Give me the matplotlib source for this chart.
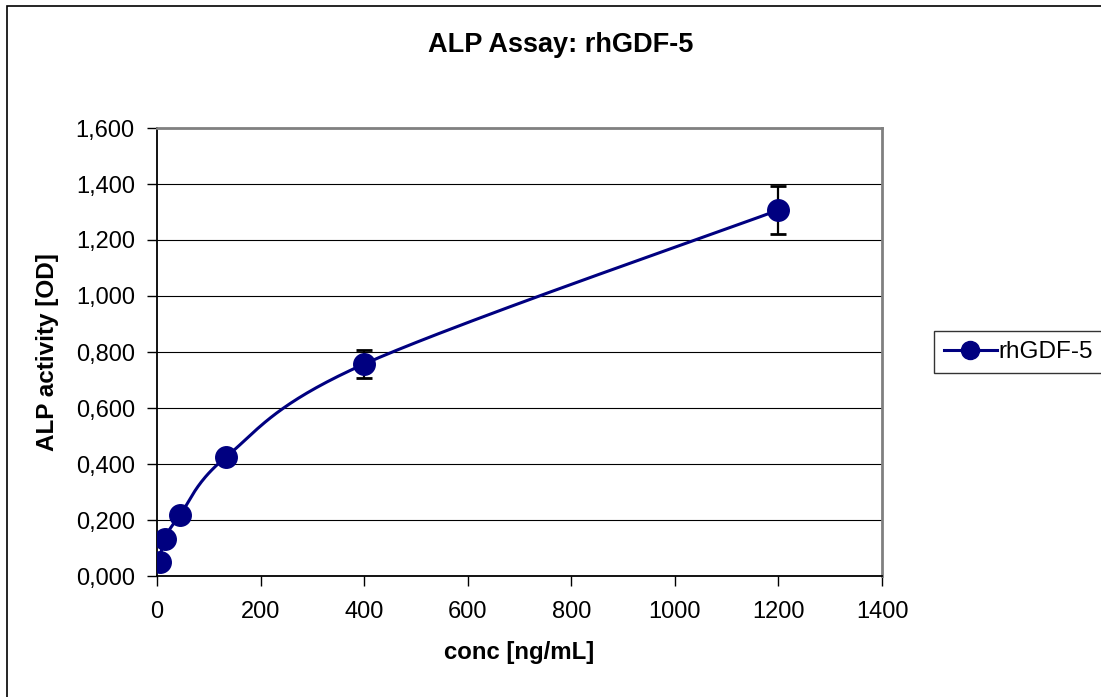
import matplotlib

matplotlib.use("Agg")
import matplotlib.pyplot as plt
import numpy as np
from matplotlib.lines import Line2D
from matplotlib.patches import Rectangle
from matplotlib.ticker import FuncFormatter, MultipleLocator

plt.rcParams["font.family"] = ["Liberation Sans", "DejaVu Sans"]

# dilution series of rhGDF-5 (3-fold steps) and measured ALP activity
conc = [4.9, 14.8, 44.4, 133.3, 400.0, 1200.0]
activity = [0.050, 0.132, 0.218, 0.425, 0.757, 1.307]
activity_err = [0.0, 0.0, 0.0, 0.0, 0.050, 0.085]

SERIES_NAME = "rhGDF-5"
LINE_COLOR = "#000080"
X_MAX = 1400
Y_MAX = 1.6
AX_W_PX = 725
AX_H_PX = 448


def _smooth_curve(xs, ys, x_unit, y_unit, steps=40):
    # Catmull-Rom style bezier through the points, built in screen-like units
    px = np.asarray(xs) / x_unit
    py = np.asarray(ys) / y_unit
    pts = np.column_stack([px, py])
    out = [pts[0]]
    for i in range(len(pts) - 1):
        p0 = pts[i - 1] if i > 0 else pts[i]
        p1 = pts[i]
        p2 = pts[i + 1]
        p3 = pts[i + 2] if i + 2 < len(pts) else pts[i + 1]
        c1 = p1 + (p2 - p0) / 6.0
        c2 = p2 - (p3 - p1) / 6.0
        t = np.linspace(0, 1, steps)[1:, None]
        seg = ((1 - t) ** 3) * p1 + 3 * ((1 - t) ** 2) * t * c1 + 3 * (1 - t) * t**2 * c2 + t**3 * p2
        out.extend(seg)
    out = np.array(out)
    return out[:, 0] * x_unit, out[:, 1] * y_unit


fig = plt.figure(figsize=(11.01, 6.97), dpi=100)
ax = fig.add_axes([157 / 1101, 1 - 576 / 697, AX_W_PX / 1101, AX_H_PX / 697])

# outer chart-area frame
fig.patches.append(
    Rectangle((7 / 1101, -0.1), 1.2, 1.1 - 6 / 697, transform=fig.transFigure,
              fill=False, edgecolor="black", linewidth=1.2)
)

sx, sy = _smooth_curve(conc, activity, X_MAX / AX_W_PX, Y_MAX / AX_H_PX)
ax.plot(sx, sy, color=LINE_COLOR, linewidth=2.2, zorder=3, solid_capstyle="round")
ax.errorbar(conc, activity, yerr=activity_err, fmt="none", ecolor="black",
            elinewidth=1.6, capsize=6, capthick=2.0, zorder=4)
ax.plot(conc, activity, linestyle="none", marker="o", markersize=15.5,
        color=LINE_COLOR, markeredgecolor=LINE_COLOR, zorder=5)

ax.set_xlim(0, X_MAX)
ax.set_ylim(0, Y_MAX)
ax.xaxis.set_major_locator(MultipleLocator(200))
ax.yaxis.set_major_locator(MultipleLocator(0.2))
ax.yaxis.set_major_formatter(FuncFormatter(lambda v, _: f"{v:.3f}".replace(".", ",")))
ax.grid(axis="y", color="black", linewidth=0.8)
ax.set_axisbelow(True)

ax.tick_params(axis="both", direction="out", length=7, width=1, labelsize=17, color="black")
ax.tick_params(axis="x", pad=11)
ax.tick_params(axis="y", pad=9)

for side in ("left", "bottom"):
    ax.spines[side].set_color("black")
    ax.spines[side].set_linewidth(1.3)
for side in ("top", "right"):
    ax.spines[side].set_color("#808080")
    ax.spines[side].set_linewidth(2.0)

ax.set_xlabel("conc [ng/mL]", fontsize=17.3, fontweight="bold", labelpad=13)
ax.set_ylabel("ALP activity [OD]", fontsize=17.5, fontweight="bold", labelpad=12)
fig.text(561 / 1101, 1 - 45 / 697, "ALP Assay: rhGDF-5", fontsize=19.5,
         fontweight="bold", ha="center", va="center")

handle = Line2D([], [], color=LINE_COLOR, linewidth=2.2, marker="o", markersize=13)
leg = fig.legend([handle], [SERIES_NAME], loc="center left",
                 bbox_to_anchor=(934 / 1101, 1 - 352 / 697), fontsize=17.5,
                 frameon=True, fancybox=False, handlelength=2.2, handletextpad=0.05,
                 borderpad=0.4, borderaxespad=0)
leg.get_frame().set_edgecolor("black")
leg.get_frame().set_linewidth(1.0)

fig.savefig("out.png", dpi=100)
